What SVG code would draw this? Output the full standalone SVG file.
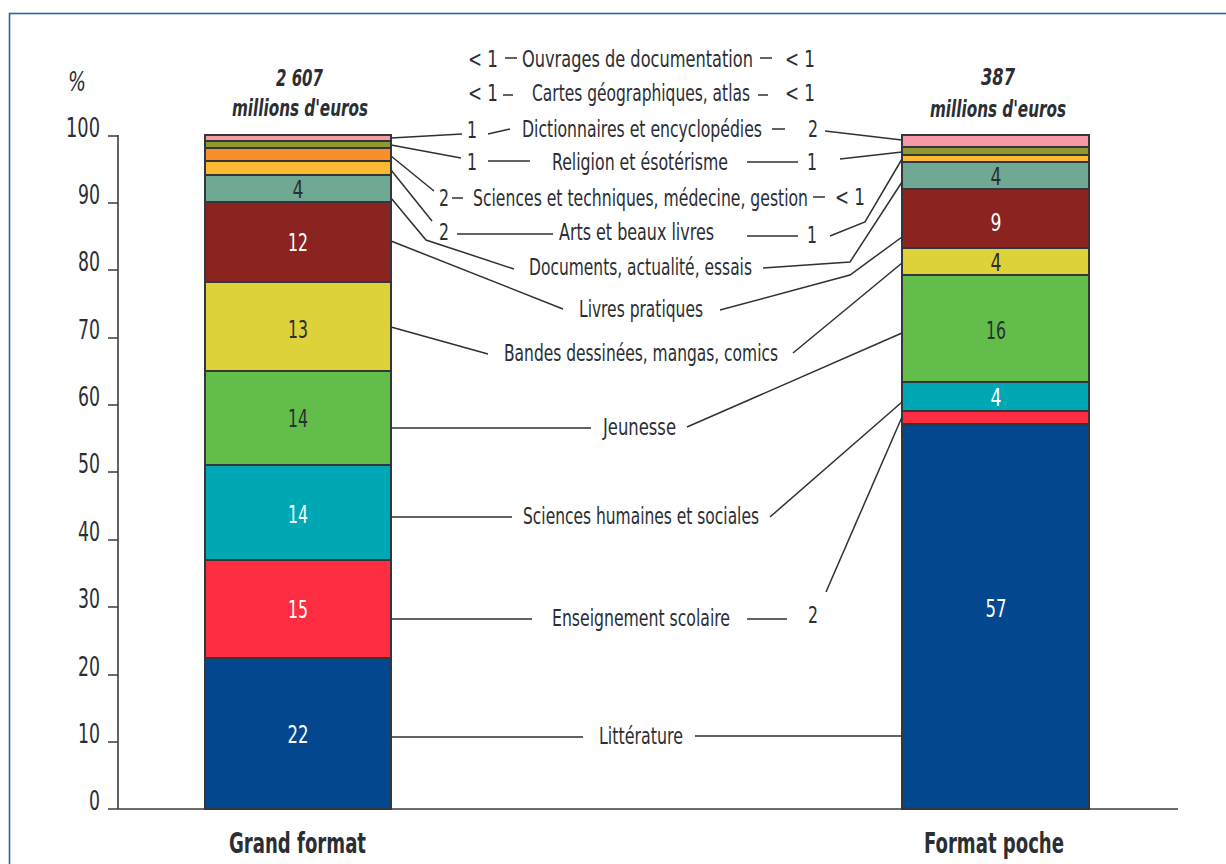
<svg xmlns="http://www.w3.org/2000/svg" width="1226" height="864" viewBox="0 0 1226 864">
<style>
text{font-family:"Liberation Sans Narrow","DejaVu Sans Condensed","Liberation Sans",sans-serif;fill:#2b2e33;font-size:23px}
.ax{font-size:27px;text-anchor:end}
.seg{font-size:25px;text-anchor:middle}
.w{fill:#ffffff}
.hd{font-weight:bold;font-style:italic;font-size:23px}
.ft{font-weight:bold;font-size:28px}
.bar rect{stroke:#33373c;stroke-width:2}
.cn line,.cn polyline{stroke:#2d3035;stroke-width:1.5;fill:none}
.axis{stroke:#3a3d42;stroke-width:1.6;fill:none}
</style>
<rect x="0" y="0" width="1226" height="864" fill="#ffffff"/>
<rect x="9.5" y="13.5" width="1240" height="900" fill="none" stroke="#2b62a8" stroke-width="1.6"/>

<g id="axis">
<path class="axis" d="M118 135V809M108 809H1178M108 136H118M108 203H118M108 270H118M108 338H118M108 405H118M108 472H118M108 540H118M108 607H118M108 675H118M108 742H118"/>
<text x="68" y="91" style="font-size:26px;font-style:italic" textLength="18" lengthAdjust="spacingAndGlyphs">%</text>
<text class="ax" x="100" y="137" textLength="34" lengthAdjust="spacingAndGlyphs">100</text>
<text class="ax" x="100" y="204" textLength="22" lengthAdjust="spacingAndGlyphs">90</text>
<text class="ax" x="100" y="271" textLength="22" lengthAdjust="spacingAndGlyphs">80</text>
<text class="ax" x="100" y="339" textLength="22" lengthAdjust="spacingAndGlyphs">70</text>
<text class="ax" x="100" y="406" textLength="22" lengthAdjust="spacingAndGlyphs">60</text>
<text class="ax" x="100" y="473" textLength="22" lengthAdjust="spacingAndGlyphs">50</text>
<text class="ax" x="100" y="541" textLength="22" lengthAdjust="spacingAndGlyphs">40</text>
<text class="ax" x="100" y="608" textLength="22" lengthAdjust="spacingAndGlyphs">30</text>
<text class="ax" x="100" y="676" textLength="22" lengthAdjust="spacingAndGlyphs">20</text>
<text class="ax" x="100" y="743" textLength="22" lengthAdjust="spacingAndGlyphs">10</text>
<text class="ax" x="100" y="810" textLength="11" lengthAdjust="spacingAndGlyphs">0</text>
</g>

<g id="bar-grand" class="bar">
<rect x="205" y="135" width="186" height="6" fill="#f79aa8"/>
<rect x="205" y="141" width="186" height="7" fill="#8f9a2e"/>
<rect x="205" y="148" width="186" height="13" fill="#f7902a"/>
<rect x="205" y="161" width="186" height="14" fill="#fdb931"/>
<rect x="205" y="175" width="186" height="27" fill="#6fa994"/>
<rect x="205" y="202" width="186" height="80" fill="#8b2320"/>
<rect x="205" y="282" width="186" height="89" fill="#ded23a"/>
<rect x="205" y="371" width="186" height="94" fill="#62bd4a"/>
<rect x="205" y="465" width="186" height="95" fill="#00a7b5"/>
<rect x="205" y="560" width="186" height="98" fill="#fe2d42"/>
<rect x="205" y="658" width="186" height="151" fill="#03478e"/>
<text class="seg" x="298" y="198" textLength="11" lengthAdjust="spacingAndGlyphs">4</text>
<text class="seg w" x="298" y="251" textLength="20" lengthAdjust="spacingAndGlyphs">12</text>
<text class="seg" x="298" y="338" textLength="20" lengthAdjust="spacingAndGlyphs">13</text>
<text class="seg" x="298" y="427" textLength="20" lengthAdjust="spacingAndGlyphs">14</text>
<text class="seg w" x="298" y="523" textLength="20" lengthAdjust="spacingAndGlyphs">14</text>
<text class="seg w" x="298" y="618" textLength="20" lengthAdjust="spacingAndGlyphs">15</text>
<text class="seg w" x="298" y="743" textLength="21" lengthAdjust="spacingAndGlyphs">22</text>
<text class="hd" x="276" y="86" textLength="47" lengthAdjust="spacingAndGlyphs">2 607</text>
<text class="hd" x="232" y="116" textLength="136" lengthAdjust="spacingAndGlyphs">millions d'euros</text>
<text class="ft" x="229" y="853" textLength="137" lengthAdjust="spacingAndGlyphs">Grand format</text>
</g>

<g id="bar-poche" class="bar">
<rect x="902" y="135" width="187" height="12" fill="#f79aa8"/>
<rect x="902" y="147" width="187" height="8" fill="#8f9a2e"/>
<rect x="902" y="155" width="187" height="7" fill="#fdb931"/>
<rect x="902" y="162" width="187" height="27" fill="#6fa994"/>
<rect x="902" y="189" width="187" height="59" fill="#8b2320"/>
<rect x="902" y="248" width="187" height="27" fill="#ded23a"/>
<rect x="902" y="275" width="187" height="107" fill="#62bd4a"/>
<rect x="902" y="382" width="187" height="29" fill="#00a7b5"/>
<rect x="902" y="411" width="187" height="13" fill="#fe2d42"/>
<rect x="902" y="424" width="187" height="385" fill="#03478e"/>
<text class="seg" x="996" y="185" textLength="11" lengthAdjust="spacingAndGlyphs">4</text>
<text class="seg w" x="996" y="231" textLength="11" lengthAdjust="spacingAndGlyphs">9</text>
<text class="seg" x="996" y="271" textLength="11" lengthAdjust="spacingAndGlyphs">4</text>
<text class="seg" x="996" y="339" textLength="20" lengthAdjust="spacingAndGlyphs">16</text>
<text class="seg w" x="996" y="406" textLength="11" lengthAdjust="spacingAndGlyphs">4</text>
<text class="seg w" x="996" y="617" textLength="21" lengthAdjust="spacingAndGlyphs">57</text>
<text class="hd" x="981" y="85" textLength="34" lengthAdjust="spacingAndGlyphs">387</text>
<text class="hd" x="930" y="117" textLength="136" lengthAdjust="spacingAndGlyphs">millions d'euros</text>
<text class="ft" x="924" y="853" textLength="140" lengthAdjust="spacingAndGlyphs">Format poche</text>
</g>

<g id="connectors" class="cn">
<line x1="505" y1="58" x2="517" y2="58"/><line x1="760" y1="58" x2="772" y2="58"/>
<line x1="503" y1="95" x2="513" y2="95"/><line x1="758" y1="95" x2="768" y2="95"/>
<line x1="391" y1="138" x2="462" y2="134"/><line x1="488" y1="134" x2="510" y2="129"/><line x1="772" y1="129" x2="785" y2="129"/><line x1="825" y1="131" x2="902" y2="140"/>
<line x1="391" y1="145" x2="461" y2="158"/><line x1="488" y1="161" x2="530" y2="161"/><line x1="747" y1="162" x2="798" y2="162"/><line x1="840" y1="159" x2="902" y2="152"/>
<line x1="391" y1="156" x2="434" y2="191"/><line x1="452" y1="198" x2="463" y2="198"/><line x1="813" y1="197" x2="825" y2="197"/>
<line x1="391" y1="170" x2="432" y2="221"/><line x1="457" y1="234" x2="553" y2="234"/><line x1="747" y1="236" x2="798" y2="236"/><polyline points="830,236 865,222 902,159"/>
<polyline points="391,198 426,240 514,269"/><polyline points="763,268 850,262 902,182"/>
<line x1="391" y1="241" x2="563" y2="309"/><polyline points="720,310 850,275 902,237"/>
<line x1="391" y1="327" x2="488" y2="354"/><line x1="793" y1="353" x2="902" y2="263"/>
<line x1="391" y1="428" x2="591" y2="428"/><line x1="687" y1="427" x2="902" y2="333"/>
<line x1="391" y1="517" x2="512" y2="517"/><line x1="770" y1="517" x2="902" y2="402"/>
<line x1="391" y1="619" x2="532" y2="619"/><line x1="747" y1="619" x2="787" y2="619"/><line x1="826" y1="592" x2="902" y2="417"/>
<line x1="391" y1="737" x2="583" y2="737"/><line x1="695" y1="736" x2="902" y2="736"/>
</g>

<g id="labels">
<text x="468" y="67" textLength="30" lengthAdjust="spacingAndGlyphs">&lt; 1</text><text x="522" y="67" textLength="231" lengthAdjust="spacingAndGlyphs">Ouvrages de documentation</text><text x="785" y="67" textLength="30" lengthAdjust="spacingAndGlyphs">&lt; 1</text>
<text x="468" y="101" textLength="30" lengthAdjust="spacingAndGlyphs">&lt; 1</text><text x="532" y="101" textLength="218" lengthAdjust="spacingAndGlyphs">Cartes géographiques, atlas</text><text x="785" y="101" textLength="30" lengthAdjust="spacingAndGlyphs">&lt; 1</text>
<text x="467" y="138" textLength="10" lengthAdjust="spacingAndGlyphs">1</text><text x="522" y="137" textLength="240" lengthAdjust="spacingAndGlyphs">Dictionnaires et encyclopédies</text><text x="808" y="137" textLength="10" lengthAdjust="spacingAndGlyphs">2</text>
<text x="467" y="170" textLength="10" lengthAdjust="spacingAndGlyphs">1</text><text x="552" y="170" textLength="176" lengthAdjust="spacingAndGlyphs">Religion et ésotérisme</text><text x="807" y="170" textLength="10" lengthAdjust="spacingAndGlyphs">1</text>
<text x="439" y="206" textLength="10" lengthAdjust="spacingAndGlyphs">2</text><text x="473" y="206" textLength="335" lengthAdjust="spacingAndGlyphs">Sciences et techniques, médecine, gestion</text><text x="835" y="205" textLength="30" lengthAdjust="spacingAndGlyphs">&lt; 1</text>
<text x="439" y="240" textLength="10" lengthAdjust="spacingAndGlyphs">2</text><text x="559" y="240" textLength="155" lengthAdjust="spacingAndGlyphs">Arts et beaux livres</text><text x="807" y="243" textLength="10" lengthAdjust="spacingAndGlyphs">1</text>
<text x="529" y="275" textLength="223" lengthAdjust="spacingAndGlyphs">Documents, actualité, essais</text>
<text x="579" y="317" textLength="124" lengthAdjust="spacingAndGlyphs">Livres pratiques</text>
<text x="504" y="361" textLength="274" lengthAdjust="spacingAndGlyphs">Bandes dessinées, mangas, comics</text>
<text x="603" y="435" textLength="73" lengthAdjust="spacingAndGlyphs">Jeunesse</text>
<text x="523" y="524" textLength="236" lengthAdjust="spacingAndGlyphs">Sciences humaines et sociales</text>
<text x="552" y="626" textLength="178" lengthAdjust="spacingAndGlyphs">Enseignement scolaire</text><text x="808" y="623" textLength="10" lengthAdjust="spacingAndGlyphs">2</text>
<text x="599" y="744" textLength="84" lengthAdjust="spacingAndGlyphs">Littérature</text>
</g>
</svg>
